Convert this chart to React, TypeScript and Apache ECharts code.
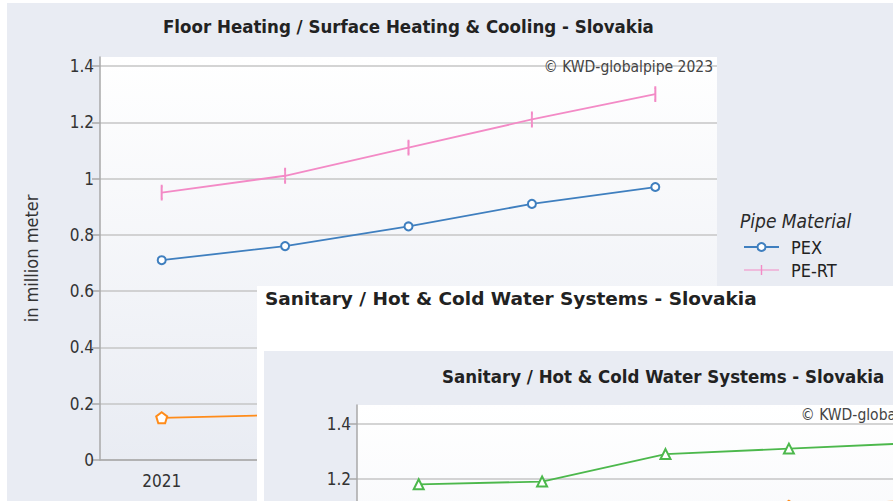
import React, { useEffect, useRef } from 'react';
import * as echarts from 'echarts';

const years = ['2021', '2022', '2023', '2024', '2025'];
const yTicks = [0, 0.2, 0.4, 0.6, 0.8, 1, 1.2, 1.4];
const yTicksVisibleSanitary = [1.2, 1.4];

// Floor Heating / Surface Heating & Cooling (million meter)
const floorPEX = [0.71, 0.76, 0.83, 0.91, 0.97];
const floorPERT = [0.95, 1.01, 1.11, 1.21, 1.3];
const floorMultilayer = [0.15, 0.16, 0.17, 0.17, 0.18];

// Sanitary / Hot & Cold Water Systems (million meter)
const sanitaryPPR = [1.18, 1.19, 1.29, 1.31, 1.33];
const sanitaryMultilayer = [0.98, 1.02, 1.06, 1.1, 1.12];

const floorTitle = 'Floor Heating / Surface Heating & Cooling - Slovakia';
const sanitaryTitle = 'Sanitary / Hot & Cold Water Systems - Slovakia';
const copyright = '\u00A9 KWD-globalpipe 2023';
const legendTitle = 'Pipe Material';
const yName = 'in million meter';

const COND = '"DejaVu Sans Condensed", "Liberation Sans Narrow", "Roboto Condensed", "DejaVu Sans", sans-serif';
const SANS = '"DejaVu Sans", "Liberation Sans", sans-serif';

const BLUE = '#3f7fbf';
const PINK = '#f38ac6';
const ORANGE = '#ff8c1a';
const GREEN = '#4cb84c';
const BG = '#e9ecf3';

const PENTAGON = 'emptyPath://M5,0 L10,3.7 L8.1,10 L1.9,10 L0,3.7 Z';
const VBAR = 'path://M0,0 L1,0 L1,10 L0,10 Z';
const VBAR_LEGEND = 'path://M0,4.4 L35,4.4 L35,5.6 L0,5.6 Z M16.8,0 L18.2,0 L18.2,10 L16.8,10 Z';

function lineSeries(name: string, data: number[], color: string, symbol: string, symbolSize: any) {
  return {
    type: 'line',
    name,
    data,
    symbol,
    symbolSize,
    lineStyle: { color, width: 1.8 },
    itemStyle: { color, borderColor: color },
    z: 3,
  };
}

function buildChart(
  title: string, titleLeft: number, titleTop: number, yMax: number, series: any[],
  withLegend: boolean, labelValues: number[], showXLabels: boolean, showName: boolean
) {
  const graphic: any[] = [
    { type: 'rect', z: -10, shape: { x: 7, y: 3, width: 2000, height: 2000 }, style: { fill: BG } },
    {
      type: 'text', z: 10,
      style: { text: copyright, x: 713, y: 67, align: 'right', verticalAlign: 'middle', fontSize: 15.5, fontFamily: COND, fill: '#444' },
    },
  ];
  if (withLegend) {
    graphic.push({
      type: 'text', z: 10,
      style: { text: legendTitle, x: 740, y: 221, align: 'left', verticalAlign: 'middle', fontSize: 19, fontStyle: 'italic', fontFamily: COND, fill: '#2a2a2a' },
    });
  }
  const opt: any = {
    animation: false,
    backgroundColor: '#ffffff',
    title: {
      text: title,
      left: titleLeft,
      top: titleTop,
      padding: 0,
      textStyle: { fontSize: 18.5, fontWeight: 'bold', fontFamily: COND, color: '#222' },
    },
    graphic,
    grid: {
      left: 100, top: 57, width: 617, height: 403,
      show: true, borderWidth: 0,
      backgroundColor: new echarts.graphic.LinearGradient(0, 0, 0, 1, [
        { offset: 0, color: '#ffffff' },
        { offset: 1, color: '#e9ecf3' },
      ]),
    },
    xAxis: {
      type: 'category', data: years, boundaryGap: true,
      axisLine: { lineStyle: { color: '#a9a9a9', width: 1.5 } },
      axisTick: { alignWithLabel: true, length: 8, lineStyle: { color: '#a9a9a9', width: 1.5 } },
      axisLabel: { show: showXLabels, fontSize: 17, color: '#333', fontFamily: COND, margin: 12 },
      splitLine: { show: false },
    },
    yAxis: {
      type: 'value', min: 0, max: yMax, interval: 0.2,
      name: showName ? yName : '', nameLocation: 'middle', nameRotate: 90, nameGap: 60,
      nameTextStyle: { fontSize: 18, color: '#333', fontFamily: COND },
      axisLine: { show: true, lineStyle: { color: '#a9a9a9', width: 1.5 } },
      axisTick: { show: true, length: 8, customValues: yTicks, lineStyle: { color: '#a9a9a9', width: 1.5 } },
      axisLabel: { customValues: labelValues, fontSize: 17, color: '#333', fontFamily: COND, margin: 6 },
      splitLine: { show: true, lineStyle: { color: '#c6c6c6', width: 1.5 } },
    },
    series,
  };
  if (withLegend) {
    opt.legend = {
      orient: 'vertical', left: 743, top: 238, padding: 0,
      itemWidth: 35, itemHeight: 10, itemGap: 5,
      textStyle: { fontSize: 18, lineHeight: 14, color: '#222', fontFamily: COND, padding: [0, 0, 0, 7] },
      data: series.map((s) => (s.name === 'PE-RT' ? { name: s.name, icon: VBAR_LEGEND } : s.name)),
    };
  }
  return opt;
}

function useChart(ref: React.RefObject<HTMLDivElement | null>, make: () => any) {
  useEffect(() => {
    if (!ref.current) return;
    const chart = echarts.init(ref.current, null, { renderer: 'svg' });
    chart.setOption(make());
    return () => chart.dispose();
  }, []);
}

export default function App() {
  const r1 = useRef<HTMLDivElement>(null);
  const r2 = useRef<HTMLDivElement>(null);
  const r3 = useRef<HTMLDivElement>(null);

  useChart(r1, () =>
    buildChart(floorTitle, 163, 17, 1.432, [
      lineSeries('PEX', floorPEX, BLUE, 'emptyCircle', 8),
      lineSeries('PE-RT', floorPERT, PINK, VBAR, [1.6, 13]),
      lineSeries('Multilayer', floorMultilayer, ORANGE, PENTAGON, 11),
    ], true, yTicks, true, true)
  );

  useChart(r2, () => ({
    animation: false,
    backgroundColor: '#ffffff',
    title: {
      text: sanitaryTitle, left: 8, top: 3, padding: 0,
      textStyle: { fontSize: 18.5, fontWeight: 'bold', fontFamily: SANS, color: '#222' },
    },
  }));

  useChart(r3, () =>
    buildChart(sanitaryTitle, 185, 19, 1.469, [
      lineSeries('PP-R', sanitaryPPR, GREEN, 'emptyTriangle', 10),
      lineSeries('Multilayer', sanitaryMultilayer, ORANGE, PENTAGON, 11),
    ], false, yTicksVisibleSanitary, false, false)
  );

  return (
    <div style={{ position: 'fixed', left: 0, top: 0, width: 893, height: 501, overflow: 'hidden', background: '#fff' }}>
      <div ref={r1} style={{ position: 'absolute', left: 0, top: 0, width: 893, height: 501 }} />
      <div ref={r2} style={{ position: 'absolute', left: 257, top: 286, width: 636, height: 215 }} />
      <div ref={r3} style={{ position: 'absolute', left: 257, top: 348, width: 893, height: 501 }} />
    </div>
  );
}
